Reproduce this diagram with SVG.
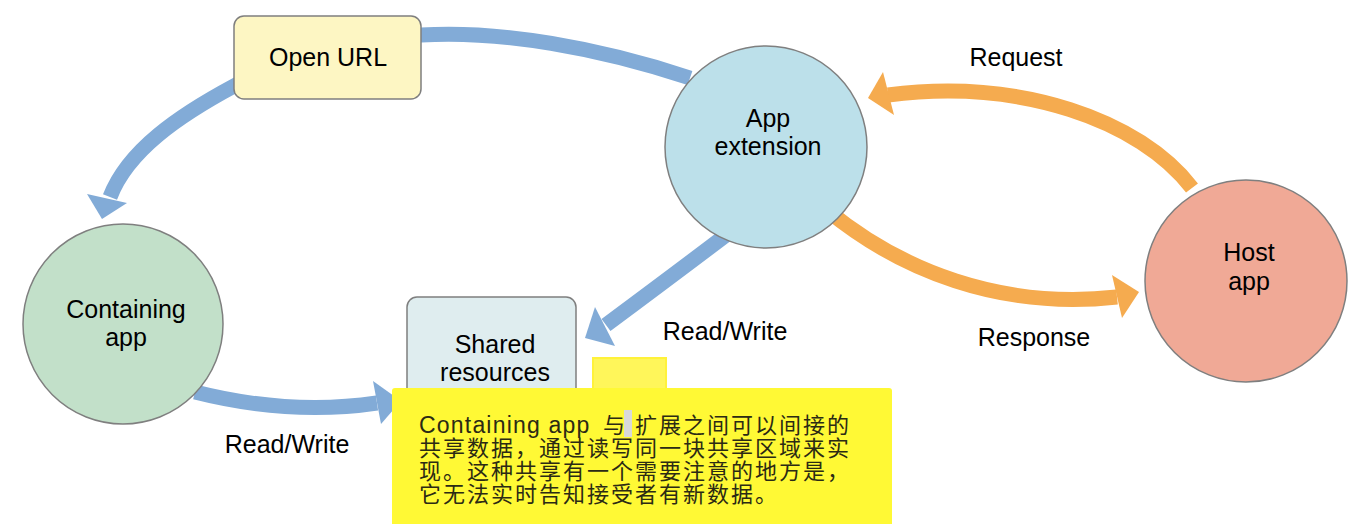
<svg xmlns="http://www.w3.org/2000/svg" width="1368" height="524" viewBox="0 0 1368 524">
<style>
.lbl{font-family:"Liberation Sans",Arial,sans-serif;font-size:25px;fill:#000;text-anchor:middle}
.node{stroke:#7f7f7f;stroke-width:1.5}
.blue{fill:none;stroke:#82abd7;stroke-width:15}
.blueh{fill:#82abd7}
.orange{fill:none;stroke:#f5ab4f;stroke-width:15}
.orangeh{fill:#f5ab4f}
.note{font-family:"Liberation Sans","Noto Sans CJK SC",sans-serif;font-size:22px;letter-spacing:2px;fill:#2b2a14}
.lat{font-size:23px;letter-spacing:1.2px}
</style>
<rect width="1368" height="524" fill="#fff"/>
<g id="connectors">
  <path class="blue" d="M690,78 C600,48 500,30 421,35 C340,40 280,60 234,86 C180,115 128,150 110,197"/>
  <polygon class="blueh" points="102,219 87,194 127,203"/>
  <path class="blue" d="M738,226 Q680,270 606,325"/>
  <polygon class="blueh" points="585,338 595,307 615,346"/>
  <path class="blue" d="M195,392 Q290,416 377,403"/>
  <polygon class="blueh" points="401,401 373,381 381,424"/>
  <path class="orange" d="M1192,188 C1140,120 1020,78 888,95"/>
  <polygon class="orangeh" points="868,98 883,72 894,115"/>
  <path class="orange" d="M827,210 C900,270 1000,310 1117,297"/>
  <polygon class="orangeh" points="1139,292 1112,275 1122,318"/>
</g>
<g id="open-url">
  <rect class="node" x="234" y="16" width="187" height="83" rx="10" fill="#fdf6c3"/>
  <text class="lbl" x="328" y="66">Open URL</text>
</g>
<g id="app-extension">
  <circle class="node" cx="766" cy="147" r="101" fill="#bce0ea"/>
  <text class="lbl" x="768" y="127">App</text>
  <text class="lbl" x="768" y="155">extension</text>
</g>
<g id="host-app">
  <circle class="node" cx="1246" cy="281" r="101" fill="#f0a996"/>
  <text class="lbl" x="1249" y="261">Host</text>
  <text class="lbl" x="1249" y="290">app</text>
</g>
<g id="containing-app">
  <circle class="node" cx="123" cy="324" r="100" fill="#c2e0c9"/>
  <text class="lbl" x="126" y="318">Containing</text>
  <text class="lbl" x="126" y="346">app</text>
</g>
<g id="shared-resources">
  <rect class="node" x="407" y="297" width="169" height="125" rx="10" fill="#dfedef"/>
  <text class="lbl" x="495" y="353">Shared</text>
  <text class="lbl" x="495" y="381">resources</text>
</g>
<g id="labels">
  <text class="lbl" x="1016" y="66">Request</text>
  <text class="lbl" x="1034" y="346">Response</text>
  <text class="lbl" x="725" y="340">Read/Write</text>
  <text class="lbl" x="287" y="453">Read/Write</text>
</g>
<g id="note-marker">
  <rect x="593" y="358" width="73" height="32" fill="#fff65a" stroke="#fff23a" stroke-width="2"/>
</g>
<g id="note">
  <rect x="392" y="388" width="500" height="140" rx="3" fill="#fff935"/>
  <rect x="624" y="410" width="8" height="27" fill="#d9d9d9"/>
  <text class="note" x="419" y="433"><tspan class="lat">Containing app</tspan><tspan x="603">与</tspan><tspan x="635">扩展之间可以间接的</tspan></text>
  <text class="note" x="419" y="456">共享数据，通过读写同一块共享区域来实</text>
  <text class="note" x="419" y="479">现。这种共享有一个需要注意的地方是，</text>
  <text class="note" x="419" y="502">它无法实时告知接受者有新数据。</text>
</g>
</svg>
